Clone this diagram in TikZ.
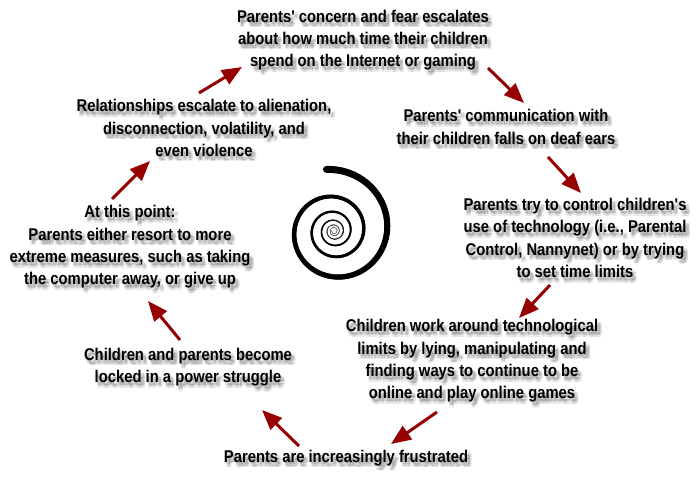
\documentclass[tikz,border=0pt]{standalone}
\usepackage{fontspec}
\setmainfont{Liberation Sans}[FakeStretch=0.87,Ligatures=TeXOff]
\usetikzlibrary{arrows.meta}
\definecolor{arrred}{RGB}{150,0,0}
\tikzset{
  lbl/.style={align=center,font=\bfseries\fontsize{17}{22.3}\selectfont,inner sep=0pt},
  shd/.style={lbl,text=black,text opacity=0.055},
  cyc/.style={draw=arrred,line width=3pt,-{Triangle[length=20pt,width=16pt]}},
}
\newcommand\lbl[3]{%
  \foreach \dx/\dy [count=\k] in {1.5/2.5,3/2.5,4.5/2.5,1.5/4,3/4,4.5/4,1.5/5.5,3/5.5,4.5/5.5,3/4}{%
    \node[shd,xshift=\dx pt,yshift=-\dy pt] (#1s\k) at (#2) {#3};}
  \node[lbl] (#1) at (#2) {#3};}
\begin{document}
\begin{tikzpicture}[x=1pt,y=-1pt]
\fill[white] (0,0) rectangle (700,500);
\useasboundingbox (0,0) rectangle (700,500);
% spiral
\foreach \t in {0,0.05,...,36.5}{%
  \pgfmathsetmacro\ra{62*exp(-0.0923*\t)}%
  \pgfmathsetmacro\rb{62*exp(-0.0923*(\t+0.05))}%
  \pgfmathsetmacro\pa{-97+\t*57.2958}%
  \pgfmathsetmacro\pb{-97+(\t+0.05)*57.2958}%
  \pgfmathsetmacro\w{max(0.112*\ra,0.35)}%
  \pgfmathsetmacro\g{min(100,\ra*8)}%
  \draw[line width=\w pt,line cap=round,draw=black!\g!gray]
    ({334+\ra*cos(\pa)},{231+\ra*sin(\pa)}) -- ({334+\rb*cos(\pb)},{231+\rb*sin(\pb)});
}
% labels
\lbl{n1}{363,40}{Parents' concern and fear escalates\\about how much time their children\\spend on the Internet or gaming}
\lbl{n2}{506,127}{Parents' communication with\\their children falls on deaf ears}
\lbl{n3}{575,238}{Parents try to control children's\\use of technology (i.e., Parental\\Control, Nannynet) or by trying\\to set time limits}
\lbl{n4}{472,361}{Children work around technological\\limits by lying, manipulating and\\finding ways to continue to be\\online and play online games}
\lbl{n5}{346,458}{Parents are increasingly frustrated}
\lbl{n6}{188,367}{Children and parents become\\locked in a power struggle}
\lbl{n7}{130,247}{At this point:\\Parents either resort to more\\extreme measures, such as taking\\the computer away, or give up}
\lbl{n8}{204,128}{Relationships escalate to alienation,\\disconnection, volatility, and\\even violence}
% arrow end points
\coordinate (a1s) at (199,93);  \coordinate (a1e) at (242,67);
\coordinate (a2s) at (488,68);  \coordinate (a2e) at (524,103);
\coordinate (a3s) at (548,157); \coordinate (a3e) at (581,193);
\coordinate (a4s) at (550,285); \coordinate (a4e) at (519,318);
\coordinate (a5s) at (437,412); \coordinate (a5e) at (391,444);
\coordinate (a6s) at (299,446); \coordinate (a6e) at (262,410);
\coordinate (a7s) at (180,340); \coordinate (a7e) at (148,301);
\coordinate (a8s) at (112,199); \coordinate (a8e) at (150,161);
\foreach \i in {1,...,8}{\draw[cyc] (a\i s) -- (a\i e);}
\end{tikzpicture}
\end{document}
